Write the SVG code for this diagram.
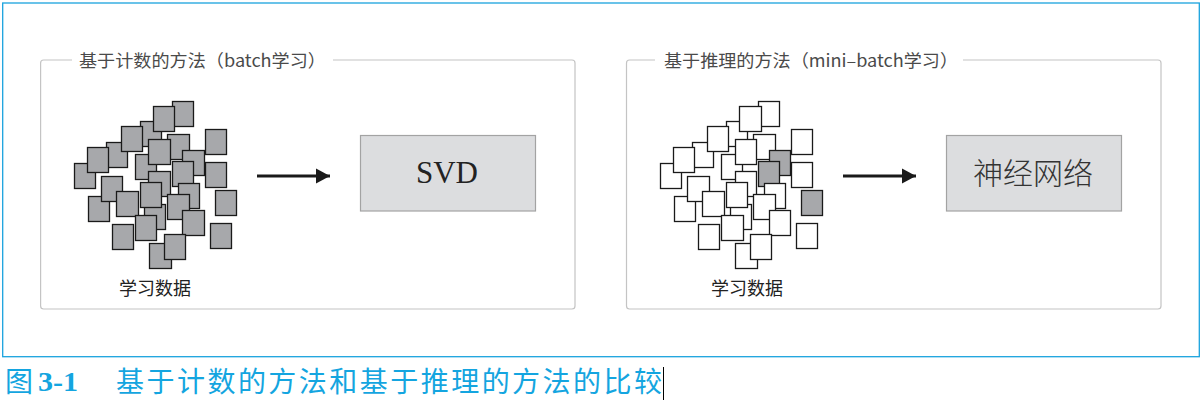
<svg xmlns="http://www.w3.org/2000/svg" width="1202" height="401" viewBox="0 0 1202 401">
<style>
.frame{fill:none;stroke:#1aa3de;stroke-width:1.3}
.group{fill:none;stroke:#c4c4c4;stroke-width:1.2}
.title{font-family:"Noto Sans CJK SC","Noto Sans",sans-serif;font-size:17.5px;fill:#4a4a4a}
.label{font-family:"Noto Sans CJK SC",sans-serif;font-size:18px;fill:#222}
.g{fill:#a7a8ab;stroke:#1a1a1a;stroke-width:1.3}
.w{fill:#ffffff;stroke:#1a1a1a;stroke-width:1.3}
.box{fill:#dcdddf;stroke:#a3a3a3;stroke-width:1.2}
.conn{stroke:#1a1a1a;stroke-width:3;fill:none}
.cap{font-family:"Noto Sans CJK SC",sans-serif;font-size:28px;fill:#14a5e0}
</style>
<defs>
<marker id="arr" markerUnits="userSpaceOnUse" markerWidth="16" markerHeight="16" refX="14" refY="8" orient="auto">
<path d="M0,0.5 L14,8 L0,15.5 Z" fill="#1a1a1a"/>
</marker>
</defs>
<rect class="frame" x="2.7" y="3" width="1196.6" height="353.7"/>

<g id="group-count">
<rect class="group" x="40.6" y="60" width="534.4" height="249" rx="3"/>
<rect x="72" y="50" width="261" height="20" fill="#fff"/>
<text class="title" x="79" y="67" textLength="247" lengthAdjust="spacingAndGlyphs">基于计数的方法（batch学习）</text>
</g>

<g id="group-infer">
<rect class="group" x="626.5" y="60" width="534.5" height="249" rx="3"/>
<rect x="655" y="50" width="308" height="20" fill="#fff"/>
<text class="title" x="664" y="67" textLength="294" lengthAdjust="spacingAndGlyphs">基于推理的方法（mini–batch学习）</text>
</g>

<g id="data-count">
<rect class="g" x="172.5" y="101.5" width="21" height="25"/>
<rect class="g" x="140.5" y="121.5" width="21" height="25"/>
<rect class="g" x="153.5" y="106.5" width="21" height="25"/>
<rect class="g" x="106.5" y="142.5" width="21" height="25"/>
<rect class="g" x="121.5" y="126.5" width="21" height="25"/>
<rect class="g" x="167.5" y="134.5" width="22" height="25"/>
<rect class="g" x="135.5" y="154.5" width="21" height="25"/>
<rect class="g" x="148.5" y="139.5" width="22" height="25"/>
<rect class="g" x="182.5" y="150.5" width="22" height="25"/>
<rect class="g" x="172.5" y="161.5" width="21" height="25"/>
<rect class="g" x="74.5" y="163.5" width="21" height="25"/>
<rect class="g" x="87.5" y="147.5" width="21" height="25"/>
<rect class="g" x="205.5" y="129.5" width="21" height="25"/>
<rect class="g" x="205.5" y="162.5" width="21" height="25"/>
<rect class="g" x="148.5" y="171.5" width="22" height="25"/>
<rect class="g" x="178.5" y="183.5" width="21" height="25"/>
<rect class="g" x="144.5" y="204.5" width="21" height="25"/>
<rect class="g" x="140.5" y="182.5" width="21" height="25"/>
<rect class="g" x="88.5" y="196.5" width="21" height="25"/>
<rect class="g" x="101.5" y="176.5" width="21" height="25"/>
<rect class="g" x="116.5" y="191.5" width="22" height="25"/>
<rect class="g" x="167.5" y="194.5" width="22" height="25"/>
<rect class="g" x="215.5" y="190.5" width="21" height="25"/>
<rect class="g" x="135.5" y="215.5" width="21" height="25"/>
<rect class="g" x="182.5" y="210.5" width="22" height="25"/>
<rect class="g" x="112.5" y="224.5" width="21" height="25"/>
<rect class="g" x="210.5" y="223.5" width="21" height="25"/>
<rect class="g" x="149.5" y="243.5" width="22" height="25"/>
<rect class="g" x="164.5" y="234.5" width="21" height="25"/>
<text class="label" x="119" y="295">学习数据</text>
</g>

<g id="data-infer">
<rect class="w" x="758.5" y="101.5" width="21" height="25"/>
<rect class="w" x="726.5" y="121.5" width="21" height="25"/>
<rect class="w" x="739.5" y="106.5" width="22" height="25"/>
<rect class="w" x="692.5" y="142.5" width="21" height="25"/>
<rect class="w" x="707.5" y="126.5" width="21" height="25"/>
<rect class="w" x="753.5" y="134.5" width="22" height="25"/>
<rect class="w" x="721.5" y="154.5" width="21" height="25"/>
<rect class="w" x="735.5" y="139.5" width="21" height="25"/>
<rect class="g" x="769.5" y="150.5" width="21" height="25"/>
<rect class="g" x="758.5" y="161.5" width="21" height="25"/>
<rect class="w" x="660.5" y="163.5" width="21" height="25"/>
<rect class="w" x="673.5" y="147.5" width="21" height="25"/>
<rect class="w" x="791.5" y="129.5" width="21" height="25"/>
<rect class="w" x="791.5" y="162.5" width="21" height="25"/>
<rect class="w" x="735.5" y="171.5" width="21" height="25"/>
<rect class="w" x="764.5" y="183.5" width="21" height="25"/>
<rect class="w" x="730.5" y="204.5" width="21" height="25"/>
<rect class="w" x="726.5" y="182.5" width="21" height="25"/>
<rect class="w" x="674.5" y="196.5" width="21" height="25"/>
<rect class="w" x="687.5" y="176.5" width="22" height="25"/>
<rect class="w" x="702.5" y="191.5" width="22" height="25"/>
<rect class="w" x="753.5" y="194.5" width="22" height="25"/>
<rect class="g" x="801.5" y="190.5" width="21" height="25"/>
<rect class="w" x="721.5" y="215.5" width="22" height="25"/>
<rect class="w" x="769.5" y="210.5" width="21" height="25"/>
<rect class="w" x="698.5" y="224.5" width="21" height="25"/>
<rect class="w" x="796.5" y="223.5" width="21" height="25"/>
<rect class="w" x="735.5" y="243.5" width="22" height="25"/>
<rect class="w" x="750.5" y="234.5" width="21" height="25"/>
<text class="label" x="711" y="295">学习数据</text>
</g>

<g id="svd">
<rect class="box" x="360.5" y="135.5" width="175" height="75.5"/>
<text x="447" y="183" text-anchor="middle" font-family="Liberation Serif, serif" font-size="31" fill="#222">SVD</text>
</g>

<g id="nn">
<rect class="box" x="946.5" y="135.5" width="175" height="75.5"/>
<text x="1033" y="184" text-anchor="middle" font-family="Noto Sans CJK SC, sans-serif" font-size="30" font-weight="300" fill="#333">神经网络</text>
</g>

<g id="connectors">
<line class="conn" x1="257" y1="176" x2="330" y2="176" marker-end="url(#arr)"/>
<line class="conn" x1="843" y1="176" x2="916" y2="176" marker-end="url(#arr)"/>
</g>

<g id="caption">
<text class="cap" x="5" y="392">图</text>
<text x="38" y="391" font-family="Liberation Serif, serif" font-weight="bold" font-size="27" fill="#14a5e0" textLength="40" lengthAdjust="spacingAndGlyphs">3-1</text>
<text class="cap" x="116" y="392" textLength="546" lengthAdjust="spacing">基于计数的方法和基于推理的方法的比较</text>
<line x1="663.5" y1="367" x2="663.5" y2="400" stroke="#000" stroke-width="1"/>
</g>
</svg>
